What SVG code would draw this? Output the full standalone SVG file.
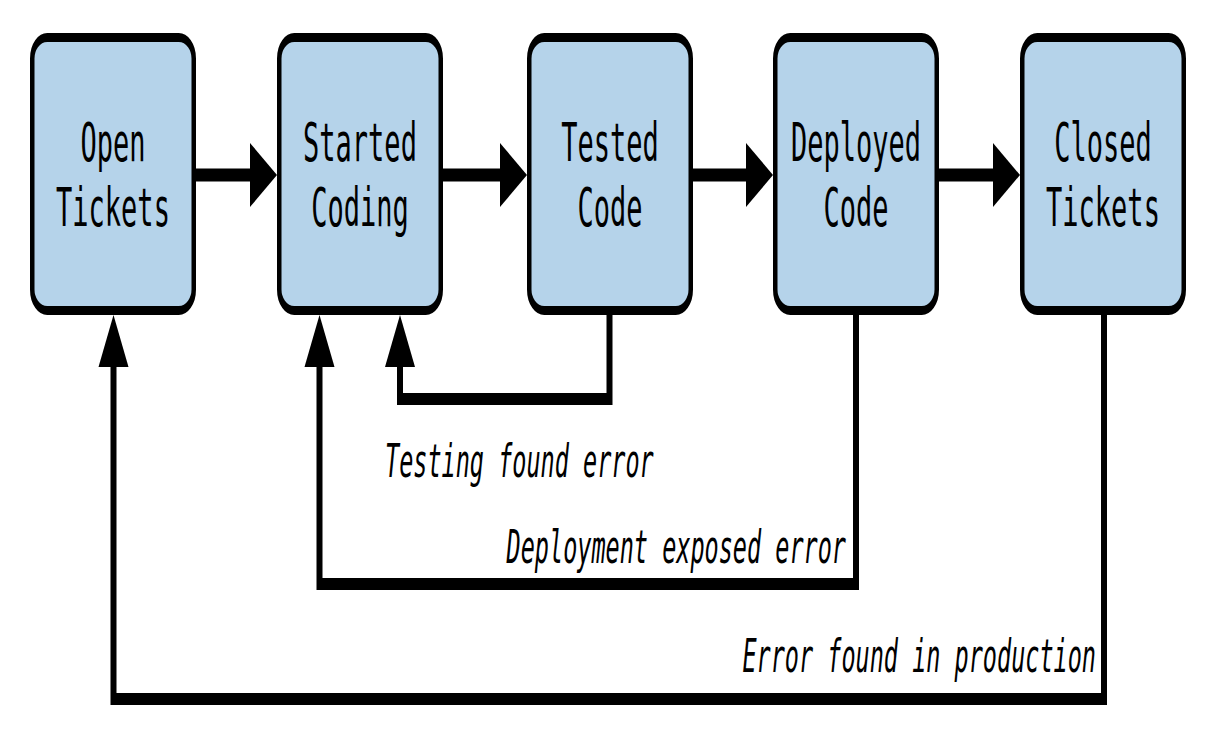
<svg xmlns="http://www.w3.org/2000/svg" width="1216" height="730" viewBox="0 0 1216 730">
<style>
.box{fill:#b5d3ea;stroke:#000;stroke-width:9}
.line{fill:none;stroke:#000;stroke-width:12;stroke-linejoin:miter;stroke-linecap:butt}
.hline{fill:none;stroke:#000;stroke-width:13}
.head{fill:#000}
.nt{font-family:"DejaVu Sans Mono",monospace;font-size:54px;fill:#000;text-anchor:middle}
.lb{font-family:"DejaVu Sans Mono",monospace;font-size:47px;font-style:italic;fill:#000}
</style>
<rect width="1216" height="730" fill="#fff"/>
<g transform="scale(0.5,1)">
<g id="connectors">
<line class="hline" x1="388" y1="175" x2="504" y2="175"/>
<polygon class="head" points="554,175 500,143 500,207"/>
<line class="hline" x1="884" y1="175" x2="1004" y2="175"/>
<polygon class="head" points="1054,175 1000,143 1000,207"/>
<line class="hline" x1="1384" y1="175" x2="1496" y2="175"/>
<polygon class="head" points="1546,175 1492,143 1492,207"/>
<line class="hline" x1="1876" y1="175" x2="1990" y2="175"/>
<polygon class="head" points="2040,175 1986,143 1986,207"/>
<path class="line" d="M1219 312 V399 H800 V363"/>
<polygon class="head" points="800,315 770,367 830,367"/>
<path class="line" d="M1712 312 V584 H639 V363"/>
<polygon class="head" points="639,315 609,367 669,367"/>
<path class="line" d="M2208 312 V699 H227 V363"/>
<polygon class="head" points="227,315 197,367 257,367"/>
<text class="lb" x="770" y="477">Testing found error</text>
<text class="lb" x="1692" y="563" text-anchor="end">Deployment exposed error</text>
<text class="lb" x="2192" y="672" text-anchor="end">Error found in production</text>
</g>
<g id="open-tickets">
<rect class="box" x="64.5" y="37.5" width="323" height="273" rx="30" ry="21"/>
<text class="nt" x="226" y="161">Open</text>
<text class="nt" x="226" y="226">Tickets</text>
</g>
<g id="started-coding">
<rect class="box" x="558.5" y="37.5" width="323" height="273" rx="30" ry="21"/>
<text class="nt" x="720" y="161">Started</text>
<text class="nt" x="720" y="226">Coding</text>
</g>
<g id="tested-code">
<rect class="box" x="1058.5" y="37.5" width="323" height="273" rx="30" ry="21"/>
<text class="nt" x="1220" y="161">Tested</text>
<text class="nt" x="1220" y="226">Code</text>
</g>
<g id="deployed-code">
<rect class="box" x="1550.5" y="37.5" width="323" height="273" rx="30" ry="21"/>
<text class="nt" x="1712" y="161">Deployed</text>
<text class="nt" x="1712" y="226">Code</text>
</g>
<g id="closed-tickets">
<rect class="box" x="2044.5" y="37.5" width="323" height="273" rx="30" ry="21"/>
<text class="nt" x="2206" y="161">Closed</text>
<text class="nt" x="2206" y="226">Tickets</text>
</g>
</g>
</svg>
